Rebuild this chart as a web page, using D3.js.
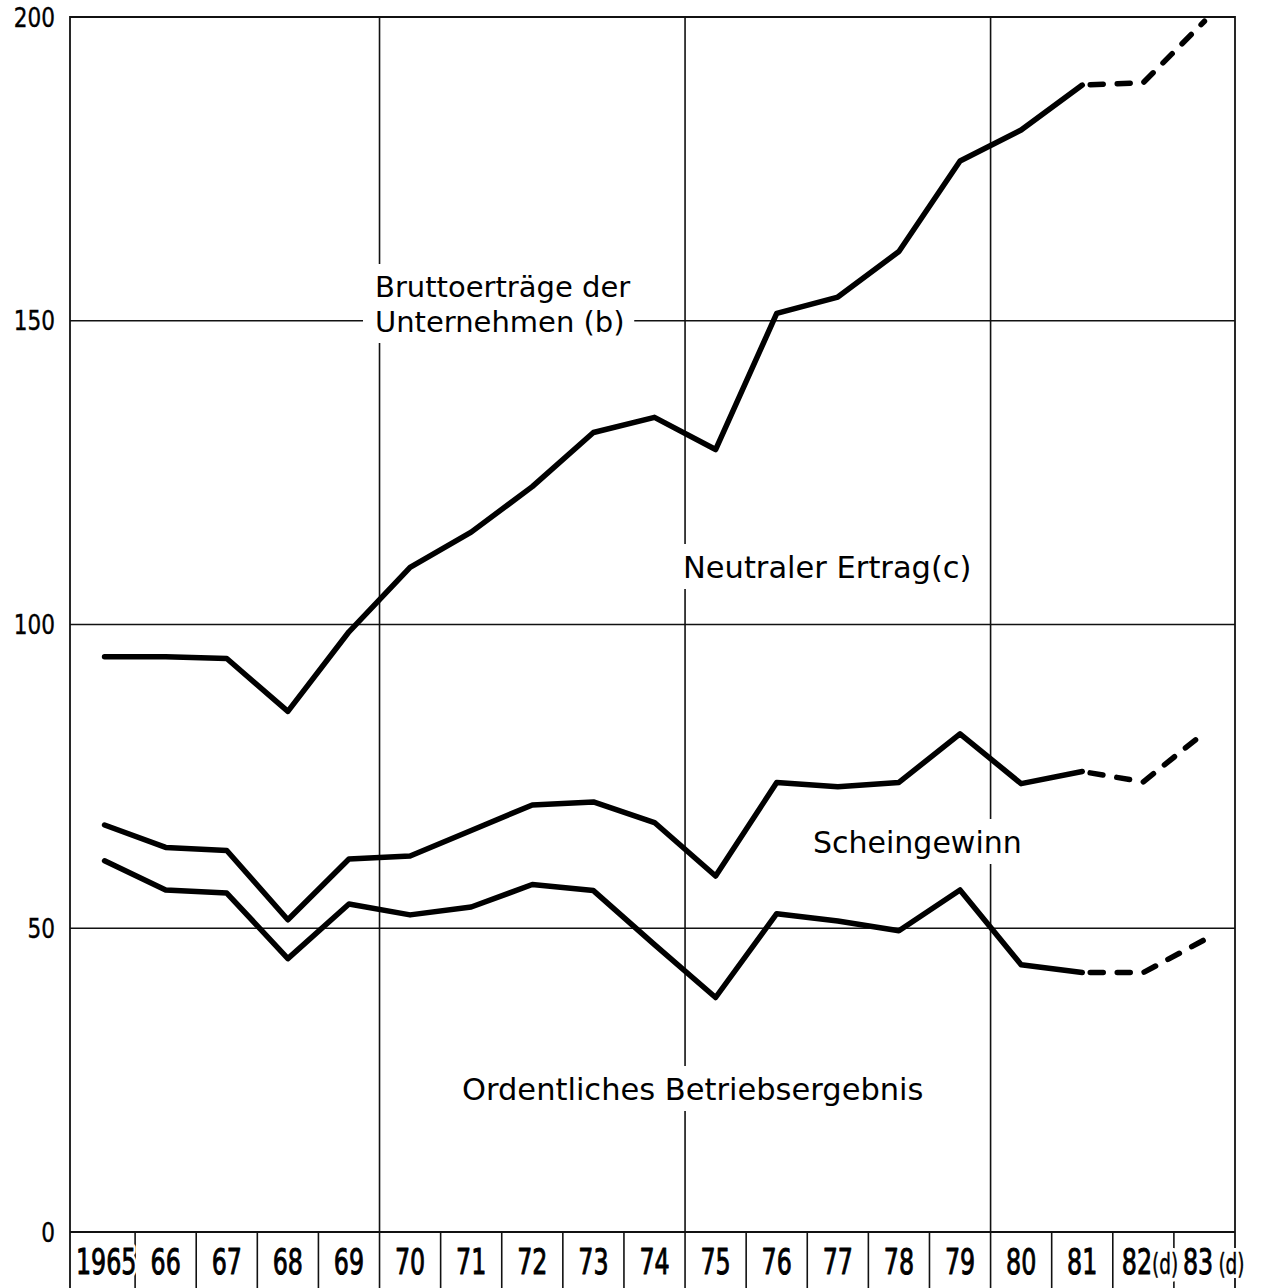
<!DOCTYPE html>
<html>
<head>
<meta charset="utf-8">
<script src="https://cdn.jsdelivr.net/npm/d3@7"></script>
<style>
  body { margin: 0; background: #fff; }
  svg { display: block; font-family: 'DejaVu Sans', sans-serif; }
</style>
</head>
<body>
<svg id="chart" width="1271" height="1288"></svg>
<script>
// years on the x axis, with their printed labels
var years = [1965, 1966, 1967, 1968, 1969, 1970, 1971, 1972, 1973, 1974,
  1975, 1976, 1977, 1978, 1979, 1980, 1981, 1982, 1983];
var year_labels = ['1965', '66', '67', '68', '69', '70', '71', '72', '73', '74',
  '75', '76', '77', '78', '79', '80', '81', '82', '83'];
var year_notes = {1982: '(d)', 1983: '(d)'};

// series values
var brutto = [94.7, 94.7, 94.4, 85.7, 98.8, 109.4, 115.2, 122.7, 131.6, 134.1,
  128.8, 151.2, 153.9, 161.4, 176.3, 181.4, 188.8, 189.2, 199.3];
var schein = [67.0, 63.3, 62.8, 51.4, 61.4, 61.9, 66.1, 70.3, 70.8, 67.4,
  58.6, 74.0, 73.3, 74.0, 82.0, 73.8, 75.8, 74.1, 82.2];
var ordentlich = [61.1, 56.3, 55.8, 45.0, 54.0, 52.2, 53.5, 57.2, 56.2, 47.3,
  38.6, 52.4, 51.2, 49.6, 56.3, 44.0, 42.7, 42.7, 48.1];

// first estimated year, from here on the lines are dashed
var estimate_from = 1981;

var y_ticks = [0, 50, 100, 150, 200];
var grid_years = [1970, 1975, 1980];

var svg = d3.select('#chart');
var plot_left = 70;
var plot_top = 17;
var plot_bottom = 1232;
var page_bottom = 1288;

var x_scale = d3.scaleBand()
  .domain(years)
  .range([74, 1235])
  .paddingInner(0)
  .paddingOuter(0);
var plot_right = x_scale.range()[1];

var y_scale = d3.scaleLinear()
  .domain([0, 200])
  .range([plot_bottom, plot_top]);

function x_mid(d) {
  return x_scale(d) + x_scale.bandwidth() / 2;
}

var line_color = '#111';

// horizontal grid lines
svg.append('g')
  .attr('class', 'h_grid')
  .selectAll('line')
  .data(y_ticks)
  .enter()
  .append('line')
  .attr('x1', plot_left)
  .attr('x2', plot_right)
  .attr('y1', function(d) { return y_scale(d); })
  .attr('y2', function(d) { return y_scale(d); })
  .attr('stroke', line_color)
  .attr('stroke-width', 1.6);

// vertical grid lines every five years
svg.append('g')
  .attr('class', 'v_grid')
  .selectAll('line')
  .data(grid_years)
  .enter()
  .append('line')
  .attr('x1', function(d) { return x_scale(d); })
  .attr('x2', function(d) { return x_scale(d); })
  .attr('y1', plot_top)
  .attr('y2', plot_bottom)
  .attr('stroke', line_color)
  .attr('stroke-width', 1.6);

// frame: left, top and right edges (left and right run down through the labels)
svg.append('path')
  .attr('d', 'M' + plot_left + ',' + page_bottom + ' L' + plot_left + ',' + plot_top +
    ' L' + plot_right + ',' + plot_top + ' L' + plot_right + ',' + page_bottom)
  .attr('fill', 'none')
  .attr('stroke', line_color)
  .attr('stroke-width', 1.8);

// separators between the year boxes
svg.append('g')
  .attr('class', 'year_separators')
  .selectAll('line')
  .data(years.slice(1))
  .enter()
  .append('line')
  .attr('x1', function(d) { return x_scale(d); })
  .attr('x2', function(d) { return x_scale(d); })
  .attr('y1', plot_bottom)
  .attr('y2', page_bottom)
  .attr('stroke', line_color)
  .attr('stroke-width', 1.6);

// y axis labels, narrow lettering
svg.append('g')
  .attr('class', 'y_labels')
  .selectAll('g')
  .data(y_ticks)
  .enter()
  .append('g')
  .attr('transform', function(d) {
    return 'translate(55,' + y_scale(d) + ') scale(0.8,1)';
  })
  .append('text')
  .attr('text-anchor', 'end')
  .attr('dy', '0.36em')
  .style('font-size', '27px')
  .attr('fill', '#000')
  .attr('stroke', '#000')
  .attr('stroke-width', 0.4)
  .text(function(d) { return d; });

// year labels in the boxes below the axis
var year_groups = svg.append('g')
  .attr('class', 'x_labels')
  .selectAll('g')
  .data(years)
  .enter()
  .append('g')
  .attr('transform', function(d, i) {
    var x = i === 0 ? x_scale(d) + 2 : x_mid(d);
    if (year_notes[d]) { x = x_scale(d) + 9; }
    return 'translate(' + x + ',1274) scale(0.66,1)';
  });

// white halo first (breaks the separators), then the black lettering
['halo', 'ink'].forEach(function(layer) {
  year_groups
    .append('text')
    .attr('text-anchor', function(d, i) {
      return (i === 0 || year_notes[d]) ? 'start' : 'middle';
    })
    .style('font-size', '36px')
    .attr('fill', layer === 'halo' ? '#fff' : '#000')
    .attr('stroke', layer === 'halo' ? '#fff' : '#000')
    .attr('stroke-width', layer === 'halo' ? 8 : 1.0)
    .attr('stroke-linejoin', 'round')
    .each(function(d, i) {
      var t = d3.select(this);
      t.append('tspan').text(year_labels[i]);
      if (year_notes[d]) {
        t.append('tspan')
          .attr('dx', d === 1983 ? 8 : 0)
          .style('font-size', '28px')
          .attr('stroke-width', layer === 'halo' ? 8 : 0.5)
          .text(year_notes[d]);
      }
    });
});

// x axis line
svg.append('line')
  .attr('x1', plot_left)
  .attr('x2', plot_right)
  .attr('y1', plot_bottom)
  .attr('y2', plot_bottom)
  .attr('stroke', line_color)
  .attr('stroke-width', 1.8);

// series labels inside the plot, on white so the grid breaks around them
var annotations = [
  {lines: ['Bruttoerträge der', 'Unternehmen (b)'], x: 375, y: 297, size: 29},
  {lines: ['Neutraler Ertrag(c)'], x: 683, y: 578, size: 30.5},
  {lines: ['Scheingewinn'], x: 813, y: 853, size: 30},
  {lines: ['Ordentliches Betriebsergebnis'], x: 462, y: 1100, size: 30.5}
];

var note_groups = svg.append('g')
  .attr('class', 'annotations')
  .selectAll('g')
  .data(annotations)
  .enter()
  .append('g');

note_groups.each(function(d) {
  var g = d3.select(this);
  var text = g.append('text')
    .attr('x', d.x)
    .attr('y', d.y)
    .style('font-size', d.size + 'px')
    .attr('fill', '#000');
  d.lines.forEach(function(line, i) {
    text.append('tspan')
      .attr('x', d.x)
      .attr('dy', i === 0 ? 0 : 35)
      .text(line);
  });
  var bbox = text.node().getBBox();
  g.insert('rect', 'text')
    .attr('x', bbox.x - 12)
    .attr('y', bbox.y - 6)
    .attr('width', bbox.width + 16)
    .attr('height', bbox.height + 10)
    .attr('fill', '#fff');
});

// data lines: solid up to the estimate year, dashed afterwards
var series = [brutto, schein, ordentlich];
var split_index = years.indexOf(estimate_from);

var line_gen = d3.line()
  .x(function(d) { return x_mid(d.year); })
  .y(function(d) { return y_scale(d.value); });

var line_group = svg.append('g').attr('class', 'series');

series.forEach(function(values) {
  var points = years.map(function(y, i) { return {year: y, value: values[i]}; });

  line_group.append('path')
    .datum(points.slice(0, split_index + 1))
    .attr('d', line_gen)
    .attr('fill', 'none')
    .attr('stroke', '#000')
    .attr('stroke-width', 5.5)
    .attr('stroke-linejoin', 'round')
    .attr('stroke-linecap', 'round');

  line_group.append('path')
    .datum(points.slice(split_index))
    .attr('d', line_gen)
    .attr('fill', 'none')
    .attr('stroke', '#000')
    .attr('stroke-width', 5.5)
    .attr('stroke-linejoin', 'round')
    .attr('stroke-linecap', 'round')
    .attr('stroke-dasharray', '13,14')
    .attr('stroke-dashoffset', -8);
});
</script>
</body>
</html>
